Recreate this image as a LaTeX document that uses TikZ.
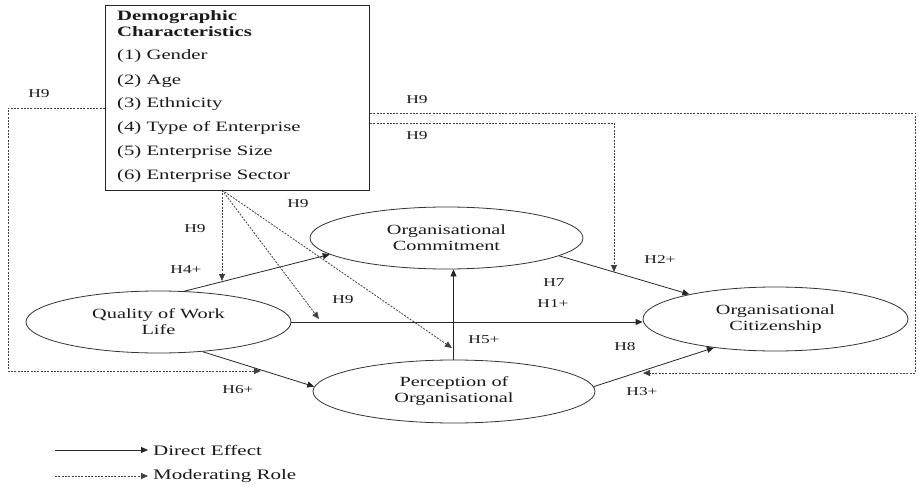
\documentclass[tikz,border=0pt]{standalone}
\usepackage{fontspec}
\setmainfont{Liberation Serif}[FakeStretch=1.45]
\usetikzlibrary{arrows.meta,shapes.geometric}
\begin{document}
\begin{tikzpicture}[x=1pt,y=-1pt,
  every node/.style={text=black!90},
  ell/.style={draw=black!80,line width=0.8pt,ellipse,inner sep=0pt,align=center,
    font=\fontsize{14}{16}\selectfont},
  hlab/.style={font=\fontsize{12}{14}\selectfont,inner sep=0pt},
  item/.style={anchor=base west,inner sep=0pt,font=\fontsize{14.3}{16}\selectfont},
  direct/.style={draw=black!85,line width=0.8pt,-{Triangle[length=7pt,width=6pt]}},
  moder/.style={draw=black!75,line width=0.8pt,dash pattern=on 2pt off 1.3pt,
    -{Triangle[length=7pt,width=6pt]}}]
\useasboundingbox (0,0) rectangle (919,487);

% demographic box
\node[draw=black!85,line width=1pt,minimum width=264pt,minimum height=185pt,
  anchor=north west,inner sep=0pt] (demo) at (105,5) {};
\node[item,font=\fontsize{14.3}{16}\selectfont\bfseries] (t1) at (117,21) {Demographic};
\node[item,font=\fontsize{14.3}{16}\selectfont\bfseries] (t2) at (117,37) {Characteristics};
\node[item] (t3) at (117,60) {(1) Gender};
\node[item] (t4) at (117,84.5) {(2) Age};
\node[item] (t5) at (117,107) {(3) Ethnicity};
\node[item] (t6) at (117,131.5) {(4) Type of Enterprise};
\node[item] (t7) at (117,155.5) {(5) Enterprise Size};
\node[item] (t8) at (117,179.5) {(6) Enterprise Sector};

% constructs
\node[ell,minimum width=265pt,minimum height=62pt] (qwl) at (158.5,322) {Quality of Work\\Life};
\node[ell,minimum width=273pt,minimum height=62pt] (oc) at (446.5,238) {Organisational\\Commitment};
\node[ell,minimum width=282pt,minimum height=63pt] (pos) at (454,391.5) {Perception of\\Organisational};
\node[ell,minimum width=265pt,minimum height=64pt] (ocs) at (775.5,319) {Organisational\\Citizenship};

% direct effects
\draw[direct] (qwl.50.6) -- (oc.188.2);
\draw[direct] (qwl.east) -- (qwl.east -| ocs.west);
\draw[direct] (qwl.326) -- (pos.178);
\draw[direct] ([xshift=-0.5pt]pos.north) -- ([xshift=-0.5pt]pos.north |- oc.south);
\draw[direct] (oc.351) -- (ocs.164.3);
\draw[direct] (pos.2.2) -- (ocs.205.3);

% moderating effects
\coordinate (dsrc) at (222,190);
\coordinate (m4) at (222,281);
\coordinate (m1) at (319,319);
\coordinate (m5) at (452,348);
\coordinate (m6) at (261,371);
\coordinate (m2) at (614,272);
\coordinate (m3) at (643,373);
\coordinate (w1) at (8,108);
\coordinate (w2) at (8,371);
\coordinate (e1) at (915,113);
\coordinate (e2) at (915,373);
\coordinate (e3) at (614,123);

\draw[moder] (dsrc) -- (m4);
\draw[moder] (dsrc) -- (m1);
\draw[moder] (dsrc) -- (m5);
\draw[moder] (demo.west |- w1) -- (w1) -- (w2) -- (m6);
\draw[moder] (demo.east |- e1) -- (e1) -- (e2) -- (m3);
\draw[moder] (demo.east |- e3) -- (e3) -- (m2);

% labels
\node[hlab] (l1) at (39,94) {H9};
\node[hlab] (l2) at (417,100) {H9};
\node[hlab] (l3) at (417,136) {H9};
\node[hlab] (l4) at (195,229) {H9};
\node[hlab] (l5) at (298,204) {H9};
\node[hlab] (l6) at (343,300) {H9};
\node[hlab] (l7) at (186,270) {H4+};
\node[hlab] (l8) at (238,390) {H6+};
\node[hlab] (l9) at (660,260) {H2+};
\node[hlab] (l10) at (554,283) {H7};
\node[hlab] (l11) at (553,304) {H1+};
\node[hlab] (l12) at (484,340) {H5+};
\node[hlab] (l13) at (625,347) {H8};
\node[hlab] (l14) at (642,392) {H3+};

% legend
\coordinate (a1) at (55,450);
\coordinate (a2) at (148,450);
\coordinate (b1) at (55,476);
\coordinate (b2) at (148,476);
\draw[direct] (a1) -- (a2);
\draw[moder] (b1) -- (b2);
\node[anchor=west,inner sep=0pt,font=\fontsize{14.5}{16}\selectfont] (lg1) at (153,450) {Direct Effect};
\node[anchor=west,inner sep=0pt,font=\fontsize{14.5}{16}\selectfont] (lg2) at (153,476) {Moderating Role};
\end{tikzpicture}
\end{document}
